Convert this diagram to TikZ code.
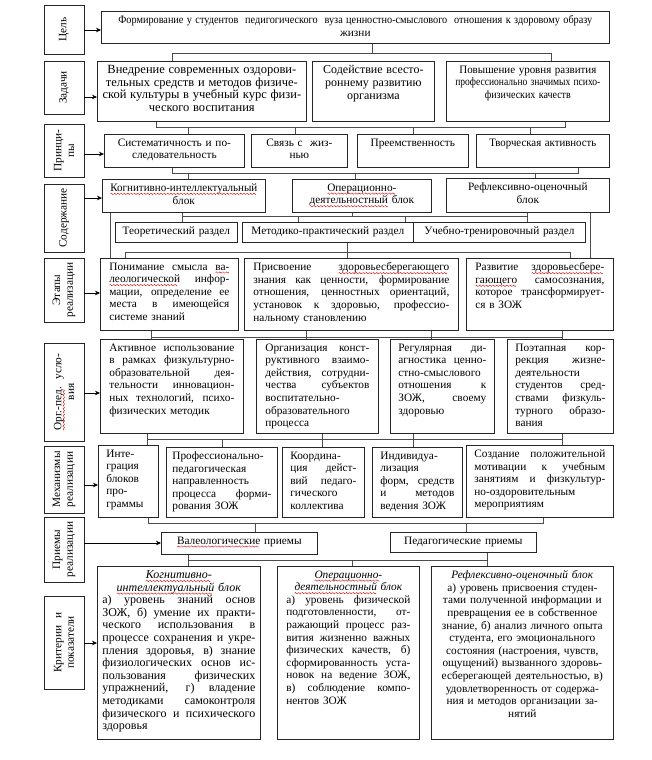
\documentclass[tikz,border=0pt]{standalone}
\usepackage{fontspec}
\setmainfont{Liberation Serif}
\usepackage{graphicx}
\usetikzlibrary{arrows.meta}
\newcommand\fsz{\fontsize{11.3}{12.6}\selectfont}
\newcommand\fszb{\fontsize{12.5}{12.5}\selectfont}
\newcommand\fszc{\fontsize{12}{12.5}\selectfont}
\newcommand\fszk{\fontsize{12}{12.6}\selectfont}
\newcommand\J[1]{\makebox[\linewidth][s]{\spaceskip=0.25em plus 3em minus 0.06em\relax #1}\\}
\newcommand\C[1]{\makebox[\linewidth][c]{#1}\\}
\newcommand\Fit[2]{\resizebox{#1pt}{\height}{#2}}
\newcommand\wv{\tikz[baseline=0pt,x=1pt,y=1pt]\draw[red!85!black,line width=0.4pt] (0,0) sin (0.75,0.7) cos (1.5,0) sin (2.25,-0.7) cos (3,0);}
\newsavebox\sqb
\newcommand\sq[1]{\sbox\sqb{#1}\leavevmode\rlap{\usebox\sqb}\raisebox{-2.4pt}{\leaders\hbox{\wv}\hskip\wd\sqb}}
\newcommand\Bx[8][18]{%
  \pgfmathsetmacro\bw{#5-#3}%
  \pgfmathsetmacro\bh{#6-#4}%
  \pgfmathsetmacro\tw{#5-#3-#1}%
  \node[bx, anchor=north west, minimum width=\bw pt, minimum height=\bh pt] (#2) at (#3,-#4) {};
  \node[txt, text width=\tw pt, align=#7] at ([yshift=-4.5pt]#2.north) {#8};%
}
\newcommand\Lb[6]{%
  \pgfmathsetmacro\cx{(#2+#4)/2}%
  \pgfmathsetmacro\cy{(#3+#5)/2}%
  \pgfmathsetmacro\lw{#5-#3}%
  \pgfmathsetmacro\lh{#4-#2}%
  \pgfmathsetmacro\ltw{#5-#3-4}%
  \node[bx, rotate=90, minimum width=\lw pt, minimum height=\lh pt, text width=\ltw pt, align=center, font=\fsz] (#1) at (\cx,-\cy) {#6};%
}
\begin{document}
\begin{tikzpicture}[x=1pt, y=1pt,
  bx/.style={draw=black!85, line width=0.7pt, inner sep=0pt, fill=white},
  txt/.style={anchor=north, inner sep=0pt, font=\fsz},
  con/.style={draw=black!70, line width=0.6pt},
  arr/.style={draw=black, line width=0.6pt, -{Stealth[length=5pt, width=4.5pt]}}]
\useasboundingbox (0,0) rectangle (651,-760);
\fill[white] (0,0) rectangle (651,-760);

% left labels
\Lb{L1}{44}{5}{84}{54}{Цель}
\Lb{L2}{44}{61}{84}{114}{Задачи}
\Lb{L3}{44}{124}{84}{177}{Принци-\\пы}
\Lb{L4}{44}{184}{84}{252}{Содержание}
\Lb{L5}{44}{258}{84}{322}{Этапы\\реализации}
\Lb{L6}{44}{343}{84}{441}{\sq{Орг.-пед.}~~усло-\\вия}
\Lb{L7}{44}{446}{84}{513}{Механизмы\\реализации}
\Lb{L8}{44}{517}{84}{582}{Приемы\\реализации}
\Lb{L9}{44}{596}{84}{689}{Критерии~~и\\показатели}

% row 1
\Bx[8]{G}{101}{11}{609}{43}{center}{\Fit{474}{Формирование у студентов \ педигогического \ вуза ценностно-смыслового \ отношения к здоровому образу}\\жизни}

% row 2
\Bx[8]{T1}{97}{61}{306}{121}{center}{\fszb Внедрение современных оздорови-\\тельных средств и методов физиче-\\ской культуры в учебный курс физи-\\ческого воспитания}
\Bx[8]{T2}{312}{61}{434}{121}{center}{\fszc Содействие всесто-\\роннему развитию\\организма}
\Bx[8]{T3}{446}{61}{609}{121}{center}{\Fit{137}{Повышение уровня развития}\\\Fit{145}{профессионально значимых психо-}\\\Fit{86}{физических качеств}}

% row 3
\Bx[8]{P1}{104}{134}{244}{167}{center}{Систематичность и по-\\следовательность}
\Bx[8]{P2}{251}{134}{347}{167}{center}{Связь с~~жиз-\\нью}
\Bx[8]{P3}{357}{134}{468}{167}{center}{Преемственность}
\Bx[8]{P4}{476}{134}{609}{167}{center}{\Fit{107}{Творческая активность}}

% row 4
\Bx[8]{S1}{102}{179}{265}{212}{center}{\Fit{147}{\sq{Когнитивно-интеллектуальный}}\\блок}
\Bx[8]{S2}{292}{179}{431}{212}{center}{\sq{Операционно-}\\\sq{деятельностный} блок}
\Bx[8]{S3}{446}{178}{609}{212}{center}{Рефлексивно-оценочный\\блок}
\Bx[6]{R1}{115}{222}{237}{242}{center}{Теоретический раздел}
\Bx[6]{R2}{242}{222}{413}{242}{center}{Методико-практический раздел}
\Bx[6]{R3}{413}{222}{585}{242}{center}{Учебно-тренировочный раздел}

% row 5
\Bx{E1}{100}{258}{238}{330}{left}{\J{Понимание смысла \sq{ва-}}\J{\sq{леологической} инфор-}\J{мации, определение ее}\J{места в имеющейся}системе знаний}
\Bx{E2}{244}{258}{458}{330}{left}{\J{Присвоение \sq{здоровьесберегающего}}\J{знания как ценности, формирование}\J{отношения, ценностных ориентаций,}\J{установок к здоровью, профессио-}нальному становлению}
\Bx{E3}{466}{258}{613}{330}{left}{\J{Развитие \sq{здоровьесбере-}}\J{\sq{гающего} самосознания,}\J{которое трансформирует-}ся в ЗОЖ}

% row 6
\Bx{O1}{100}{339}{243}{433}{left}{\J{Активное использование}\J{в рамках физкультурно-}\J{образовательной дея-}\J{тельности инновацион-}\J{ных технологий, психо-}физических методик}
\Bx{O2}{256}{339}{378}{433}{left}{\J{Организация конст-}\J{руктивного взаимо-}\J{действия, сотрудни-}\J{чества субъектов}воспитательно-\\образовательного\\процесса}
\Bx[16]{O3}{390}{339}{494}{433}{left}{\J{Регулярная ди-}\J{агностика ценно-}\J{стно-смыслового}\J{отношения к}\J{ЗОЖ, своему}здоровью}
\Bx[16]{O4}{507}{339}{613}{433}{left}{\J{Поэтапная кор-}\J{рекция жизне-}деятельности\\\J{студентов сред-}\J{ствами физкуль-}\J{турного образо-}вания}

% row 7
\Bx[16]{M1}{98}{445}{158}{517}{left}{Инте-\\грация\\блоков\\про-\\граммы}
\Bx[12]{M2}{166}{447}{277}{517}{left}{Профессионально-\\педагогическая\\направленность\\\J{процесса форми-}рования ЗОЖ}
\Bx[16]{M3}{282}{447}{364}{517}{left}{Координа-\\\J{ция дейст-}\J{вий педаго-}гического\\коллектива}
\Bx[16]{M4}{372}{447}{462}{517}{left}{Индивидуа-\\лизация\\\J{форм, средств}\J{и методов}ведения ЗОЖ}
\Bx[16]{M5}{466}{445}{613}{517}{left}{\J{Создание положительной}\J{мотивации к учебным}\J{занятиям и физкультур-}но-оздоровительным\\мероприятиям}

% row 8
\Bx[6]{V}{161}{532}{317}{554}{center}{\sq{Валеологические} приемы}
\Bx[6]{Pd}{390}{532}{536}{552}{center}{Педагогические приемы}

% row 9
\Bx[10]{K1}{97}{566}{260}{739}{left}{\fszk\C{\textit{\sq{Когнитивно-}}}\C{\textit{\sq{интеллектуальный} блок}}\J{а) уровень знаний основ}\J{ЗОЖ, б) умение их практи-}\J{ческого использования в}\J{процессе сохранения и укре-}\J{пления здоровья, в) знание}\J{физиологических основ ис-}\J{пользования физических}\J{упражнений, г) владение}\J{методиками самоконтроля}\J{физического и психического}здоровья}
\Bx{K2}{277}{566}{419}{739}{left}{\C{\textit{\sq{Операционно-}}}\C{\textit{\sq{деятельностный} блок}}\J{а) уровень физической}\J{подготовленности, от-}\J{ражающий процесс раз-}\J{вития жизненно важных}\J{физических качеств, б)}\J{сформированность уста-}\J{новок на ведение ЗОЖ,}\J{в) соблюдение компо-}нентов ЗОЖ}
\Bx{K3}{431}{566}{613}{739}{left}{\C{\textit{Рефлексивно-оценочный блок}}\C{а) уровень присвоения студен-}\C{тами полученной информации и}\C{превращения ее в собственное}\C{знание, б) анализ личного опыта}\C{студента, его эмоционального}\C{состояния (настроения, чувств,}\C{ощущений) вызванного здоровь-}\C{есберегающей деятельностью, в)}\C{удовлетворенность от содержа-}\C{ния и методов организации за-}\makebox[\linewidth][c]{нятий}}

% arrows
\draw[arr] (L1.south |- 0,-30) -- (G.west |- 0,-30);
\draw[arr] (L2.south |- 0,-97) -- (T1.west |- 0,-97);
\draw[arr] (L3.south |- 0,-154) -- (P1.west |- 0,-154);
\draw[arr] (L4.south |- 0,-198) -- (S1.west |- 0,-198);
\draw[arr] (L5.south |- 0,-293) -- (E1.west |- 0,-293);
\draw[arr] (L6.south |- 0,-393) -- (O1.west |- 0,-393);
\draw[arr] (L7.south |- 0,-485) -- (M1.west |- 0,-485);
\draw[arr] (L8.south |- 0,-543) -- (V.west |- 0,-543);
\draw[arr] (L9.south |- 0,-643) -- (K1.west |- 0,-643);

% bus A
\draw[con] (G.south -| 372,0) -- (372,-53);
\draw[con] (T1.north -| 172,0) -- (172,-53) -- (551,-53) -- (T3.north -| 551,0);
% bus B
\draw[con] (T1.south -| 156,0) -- (156,-127) -- (565,-127) -- (T3.south -| 565,0);
\foreach \x/\n in {188/P1,295/P2,413/P3,530/P4} \draw[con] (\x,-127) -- (\n.north -| \x,0);
% bus C
\draw[con] (P1.south -| 172,0) -- (172,-173) -- (578,-173) -- (P4.south -| 578,0);
\foreach \x/\n in {188/S1,355/S2,535/S3} \draw[con] (\x,-173) -- (\n.north -| \x,0);
% bus D
\draw[con] (S1.south -| 182,0) -- (R1.north -| 182,0);
\draw[con] (182,-216) -- (527,-216);
\draw[con] (S2.south -| 352,0) -- (352,-216);
\draw[con] (S3.south -| 527,0) -- (R3.north -| 527,0);
\draw[con] (298,-216) -- (R2.north -| 298,0);
\draw[con] (405,-216) -- (R2.north -| 405,0);
\draw[con] (S1.south -| 110,0) -- (E1.north -| 110,0);
\draw[con] (S3.south -| 590,0) -- (E3.north -| 590,0);
% bus E
\draw[con] (E1.north -| 125,0) -- (125,-252) -- (570,-252) -- (E3.north -| 570,0);
\draw[con] (R2.south -| 347,0) -- (E2.north -| 347,0);
% bus F
\draw[con] (E1.south -| 151,0) -- (O1.north -| 151,0);
\draw[con] (151,-337) -- (562,-337);
\draw[con] (E3.south -| 562,0) -- (O4.north -| 562,0);
\draw[con] (E2.south -| 306,0) -- (O2.north -| 306,0);
\draw[con] (E2.south -| 431,0) -- (O3.north -| 431,0);
% bus G
\draw[con] (O1.south -| 147,0) -- (M1.north -| 147,0);
\draw[con] (147,-439) -- (562,-439);
\draw[con] (O4.south -| 562,0) -- (M5.north -| 562,0);
\draw[con] (O2.south -| 322,0) -- (M3.north -| 322,0);
\draw[con] (O3.south -| 413,0) -- (M4.north -| 413,0);
\draw[con] (222,-439) -- (M2.north -| 222,0);
% bus H
\draw[con] (M1.south -| 148,0) -- (148,-523) -- (543,-523) -- (M5.south -| 543,0);
\draw[con] (255,-523) -- (V.north -| 255,0);
\draw[con] (466,-523) -- (Pd.north -| 466,0);
% bus I
\draw[con] (V.south -| 188,0) -- (K1.north -| 188,0);
\draw[con] (188,-560) -- (487,-560);
\draw[con] (Pd.south -| 487,0) -- (K3.north -| 487,0);
\draw[con] (352,-560) -- (K2.north -| 352,0);
\end{tikzpicture}
\end{document}
